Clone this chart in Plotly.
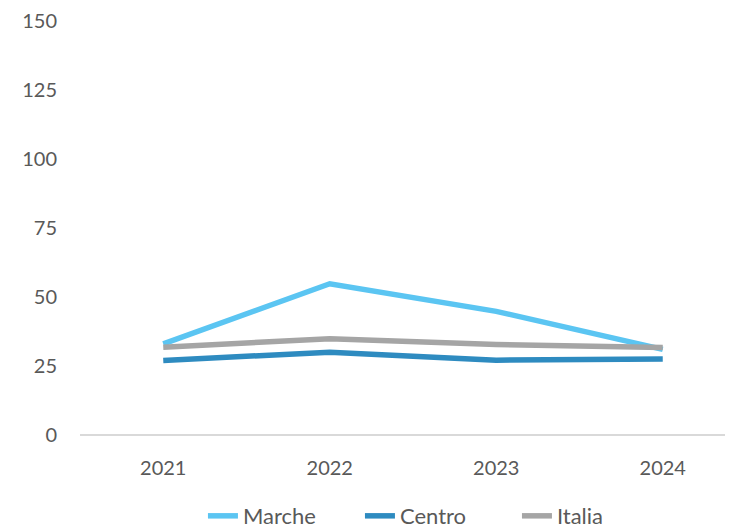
import plotly.graph_objects as go

years = ["2021", "2022", "2023", "2024"]
marche = [33.0, 54.8, 44.8, 31.0]
centro = [27.0, 30.0, 27.1, 27.5]
italia = [31.8, 34.9, 32.8, 31.7]

series = [
    ("Marche", marche, "#5BC5F2"),
    ("Centro", centro, "#2E8BC0"),
    ("Italia", italia, "#A5A5A5"),
]

fig = go.Figure()
for name, vals, col in series:
    fig.add_trace(go.Scatter(
        x=years, y=vals, name=name, mode="lines",
        line=dict(color=col, width=5.5),
    ))

fig.update_layout(
    width=733, height=530,
    margin=dict(l=72, r=0, t=13, b=103, autoexpand=False),
    paper_bgcolor="white", plot_bgcolor="white",
    font=dict(family="Lato, Noto Sans, sans-serif", size=20, color="#595959"),
    showlegend=True,
    legend=dict(orientation="h", x=0.186, xanchor="left", y=-0.145, yanchor="top",
                font=dict(size=22, color="#595959"),
                entrywidth=112, entrywidthmode="pixels",
                tracegroupgap=0),
    xaxis=dict(type="category", range=[-0.5, 3.47], showgrid=False,
               showline=False, ticks="", zeroline=False, automargin=False,
               ticklabelstandoff=19),
    yaxis=dict(range=[0, 150], dtick=25, showgrid=False, zeroline=True,
               zerolinecolor="#D9D9D9", zerolinewidth=2, ticks="",
               ticklabelstandoff=22, showline=False, automargin=False,
               ticklabeloverflow="allow"),
)

fig.write_html("out.html")
